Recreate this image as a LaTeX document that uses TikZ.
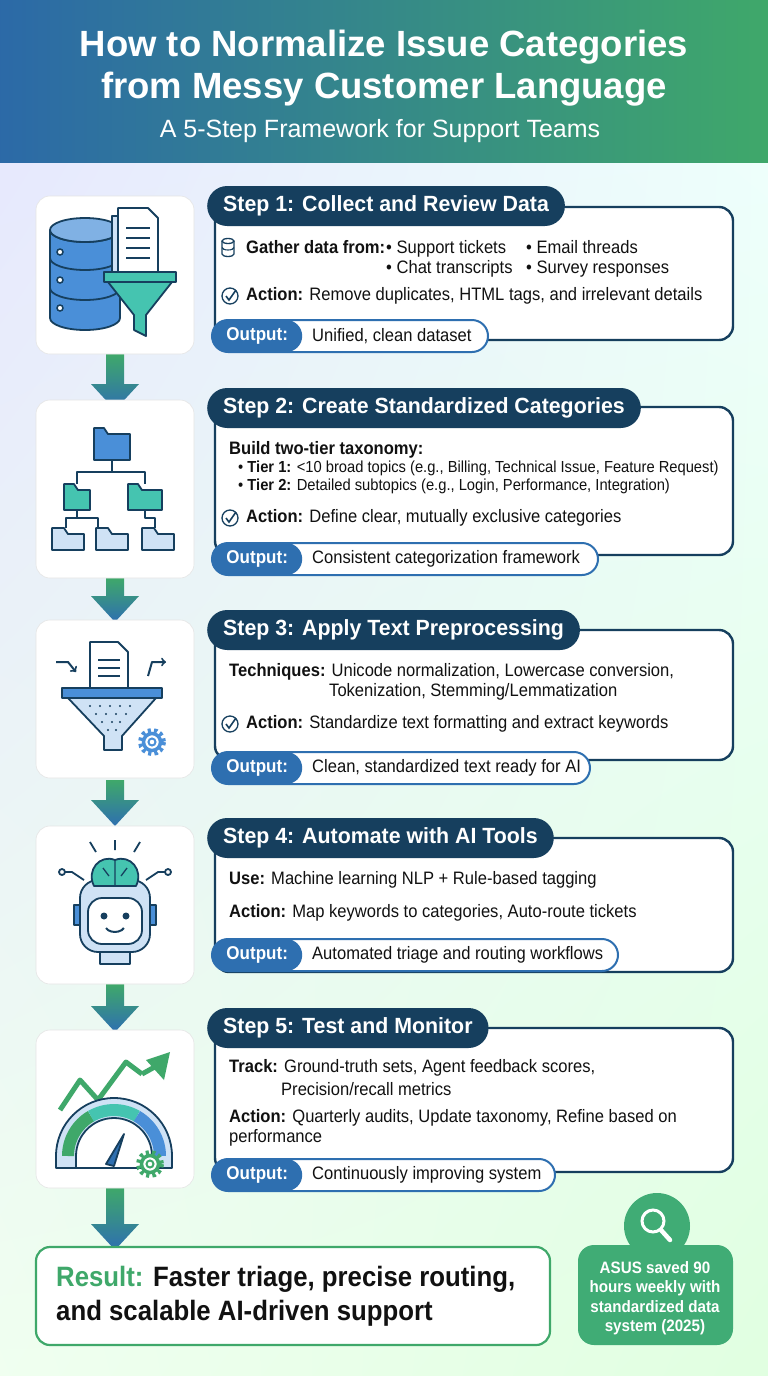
\documentclass[tikz,border=0pt]{standalone}
\usepackage{fontspec}
\setmainfont{Liberation Sans}[FakeStretch=0.92]
\newfontfamily\titlefont{Liberation Sans}
\newfontfamily\hfont{Liberation Sans}[FakeStretch=0.97]
\usetikzlibrary{shapes.geometric,shadings}
\definecolor{navy}{HTML}{163F5E}
\definecolor{blu}{HTML}{2E6FB0}
\definecolor{lblu}{HTML}{4A8FD8}
\definecolor{pblu}{HTML}{CFE2F5}
\definecolor{grn}{HTML}{3FA86A}
\definecolor{teal}{HTML}{45C4B0}
\definecolor{txt}{HTML}{111111}
\tikzset{
 iconbox/.style={fill=white,rounded corners=14,draw=white!90!black,line width=0.6},
 content/.style={draw=navy,line width=2.4,fill=white,rounded corners=14},
 header/.style={fill=navy,text=white,font=\hfont\bfseries\fontsize{22}{25}\selectfont,rounded corners=20,minimum height=40,inner xsep=16,anchor=west},
 body/.style={anchor=west,text=txt,font=\fontsize{18}{21}\selectfont,inner sep=0},
 bodyb/.style={anchor=base west,text=txt,font=\fontsize{18}{21}\selectfont,inner sep=0},
 small/.style={anchor=west,text=txt,font=\fontsize{16}{19}\selectfont,inner sep=0},
 outlab/.style={fill=blu,text=white,font=\bfseries\fontsize{18.5}{21}\selectfont,rounded corners=16,minimum height=32,minimum width=90,anchor=west},
 outtxt/.style={anchor=west,text=txt,font=\fontsize{18}{21}\selectfont,inner sep=0},
 ic/.style={draw=navy,line width=1.8,line join=round},
}
\newcommand{\chk}[2]{\draw[navy,line width=1.3] (#1,#2) circle (8);\draw[navy,line width=1.6] (#1-4,#2) -- (#1-1,#2+4) -- (#1+6,#2-6);}
\newcommand{\outpill}[4]{% y, right x, text, name
 \draw[draw=blu,line width=2,fill=white,rounded corners=16] (212,#1-16) rectangle (#2,#1+16);
 \node[outlab] (#4l) at (212,#1) {Output:};
 \node[outtxt] (#4) at (312,#1) {#3};}
\newcommand{\darrow}[2]{% y top, y bottom
 \shade[top color=grn,bottom color=blu] (106,#1) -- (124,#1) -- (124,#2-26) -- (139,#2-26) -- (115,#2) -- (91,#2-26) -- (106,#2-26) -- cycle;}
\newcommand{\gear}[3]{\draw[#3,line width=5,dash pattern=on 3.2pt off 3pt] (#1,#2) circle (11.5);\draw[#3,line width=3.5,fill=white] (#1,#2) circle (8.5);\draw[#3,line width=2,fill=white] (#1,#2) circle (3.5);}
\begin{document}
\begin{tikzpicture}[x=1pt,y=-1pt]
\useasboundingbox (0,0) rectangle (768,1376);
\shade[upper left=blue!10!white,upper right=cyan!6!white,lower left=green!6!white,lower right=green!12!white] (0,0) rectangle (768,1376);
\shade[left color=blu!95!black,right color=grn] (0,0) rectangle (768,162);
\node[text=white,font=\titlefont\bfseries\fontsize{36.5}{42}\selectfont,align=center] (title) at (384,68) {How to Normalize Issue Categories\\from Messy Customer Language};
\node[text=white,font=\titlefont\fontsize{25}{28}\selectfont] (sub) at (380,131) {A 5-Step Framework for Support Teams};
% arrows
\darrow{354}{410}
\darrow{578}{622}
\darrow{780}{826}
\darrow{984}{1032}
\darrow{1188}{1250}
% ===== step 1
\draw[iconbox] (36,196) rectangle (194,354);
\draw[content] (215,207) rectangle (733,340);
\node[header] (h1) at (207,206) {Step 1: Collect and Review Data};
\draw[navy,line width=1.3] (228,241) ellipse (6 and 2.5);\draw[navy,line width=1.3] (222,241)--(222,254) arc(180:0:6 and 2.5)--(234,241);\draw[navy,line width=1.1] (222,247.5) arc(180:0:6 and 2.5);
\node[bodyb] (g1) at (246,253) {\textbf{Gather data from:}};
\node[bodyb] (g2) at (386,253) {• Support tickets};
\node[bodyb] (g3) at (526,253) {• Email threads};
\node[bodyb] (g4) at (386,273) {• Chat transcripts};
\node[bodyb] (g5) at (526,273) {• Survey responses};
\chk{230}{296}
\node[body] (a1) at (246,296) {\textbf{Action:} Remove duplicates, HTML tags, and irrelevant details};
\outpill{336}{488}{Unified, clean dataset}{o1}
% icon1 database + doc + funnel
\fill[lblu,draw=navy,line width=1.8] (50,230)--(50,318) arc(180:0:35 and 12)--(120,230) arc(0:180:35 and 12);
\draw[navy,line width=1.8,fill=lblu!70!white] (85,230) ellipse (35 and 12);
\foreach \yy in {258,288} \draw[navy,line width=1.8] (50,\yy) arc(180:0:35 and 12);
\foreach \yy in {252,280,308} \draw[navy,line width=1.5,fill=white] (60,\yy) circle (3);
\draw[ic,fill=pblu] (112,216) rectangle (150,282);
\draw[ic,fill=white] (118,208)--(148,208)--(158,218)--(158,276)--(118,276)--cycle;
\foreach \yy in {228,238,248,258} \draw[navy,line width=2] (126,\yy)--(150,\yy);
\draw[ic,fill=teal] (104,272) rectangle (176,282);
\draw[ic,fill=teal] (108,282)--(172,282)--(146,315)--(146,336)--(134,330)--(134,315)--cycle;
% ===== step 2
\draw[iconbox] (36,400) rectangle (194,578);
\draw[content] (215,407) rectangle (733,555);
\node[header] (h2) at (207,408) {Step 2: Create Standardized Categories};
\node[body] (b2) at (229,450) {\textbf{Build two-tier taxonomy:}};
\node[small] (t1) at (238,468) {• \textbf{Tier 1:} <10 broad topics (e.g., Billing, Technical Issue, Feature Request)};
\node[small] (t2) at (238,486) {• \textbf{Tier 2:} Detailed subtopics (e.g., Login, Performance, Integration)};
\chk{230}{518}
\node[body] (a2) at (246,518) {\textbf{Action:} Define clear, mutually exclusive categories};
\outpill{559}{598}{Consistent categorization framework}{o2}
% icon2 folders
\draw[ic,fill=lblu] (94,428)--(94,460)--(130,460)--(130,434)--(108,434)--(104,428)--cycle;
\draw[ic] (112,460)--(112,472) (77,484)--(77,472)--(145,472)--(145,484);
\draw[ic,fill=teal] (64,484)--(64,510)--(90,510)--(90,490)--(78,490)--(74,484)--cycle;
\draw[ic,fill=teal] (128,484)--(128,510)--(162,510)--(162,490)--(142,490)--(138,484)--cycle;
\draw[ic] (77,510)--(77,518) (66,528)--(66,518)--(98,518)--(98,528) (145,510)--(145,518)--(155,518)--(155,528);
\foreach \xx in {52,96,142} \draw[ic,fill=pblu] (\xx,528)--(\xx,550)--(\xx+32,550)--(\xx+32,534)--(\xx+16,534)--(\xx+12,528)--cycle;
% ===== step 3
\draw[iconbox] (36,620) rectangle (194,778);
\draw[content] (215,630) rectangle (733,760);
\node[header] (h3) at (207,630) {Step 3: Apply Text Preprocessing};
\node[body] (te) at (229,672) {\textbf{Techniques:} Unicode normalization, Lowercase conversion,};
\node[body] (te2) at (329,692) {Tokenization, Stemming/Lemmatization};
\chk{230}{724}
\node[body] (a3) at (246,724) {\textbf{Action:} Standardize text formatting and extract keywords};
\outpill{768}{590}{Clean, standardized text ready for AI}{o3}
% icon3
\draw[ic,fill=white] (90,642)--(118,642)--(128,652)--(128,690)--(90,690)--cycle;
\foreach \yy in {660,668,676} \draw[navy,line width=1.8] (98,\yy)--(120,\yy);
\draw[ic,->,line width=2] (56,662)--(68,662)--(76,672);
\draw[ic,->,line width=2] (148,676)--(152,662)--(166,662);
\draw[ic,fill=lblu] (62,688) rectangle (162,698);
\draw[ic,fill=pblu] (68,698)--(156,698)--(122,736)--(122,750)--(104,750)--(104,736)--cycle;
\foreach \xx/\yy in {90/706,100/706,110/706,120/706,130/706,96/714,106/714,116/714,126/714,102/722,112/722,120/722,108/730,116/730} \fill[navy] (\xx,\yy) circle (1.2);
\gear{152}{742}{lblu}
% ===== step 4
\draw[iconbox] (36,826) rectangle (194,984);
\draw[content] (215,838) rectangle (733,972);
\node[header] (h4) at (207,838) {Step 4: Automate with AI Tools};
\node[body] (u4) at (229,880) {\textbf{Use:} Machine learning NLP + Rule-based tagging};
\node[body] (a4) at (229,913) {\textbf{Action:} Map keywords to categories, Auto-route tickets};
\outpill{955}{618}{Automated triage and routing workflows}{o4}
% icon4 robot
\draw[ic,fill=pblu,rounded corners=18] (80,880) rectangle (150,952);
\draw[ic,fill=white,rounded corners=14] (88,898) rectangle (142,944);
\draw[ic,fill=lblu] (74,905) rectangle (80,925); \draw[ic,fill=lblu] (150,905) rectangle (156,925);
\draw[ic,fill=pblu] (100,952) rectangle (130,964);
\fill[navy] (104,916) circle (3.5); \fill[navy] (126,916) circle (3.5);
\draw[navy,line width=2] (106,928) arc(160:20:9.5 and 6);
\draw[ic,fill=teal] (94,886) .. controls (86,870) and (100,854) .. (115,860) .. controls (130,854) and (144,870) .. (136,886) -- cycle;
\draw[navy,line width=1.3] (115,860)--(115,886) (103,868)--(109,876) (127,868)--(121,876);
\draw[ic] (84,880)--(72,872)--(64,872) (146,880)--(158,872)--(166,872);
\draw[ic,fill=white] (62,872) circle (3); \draw[ic,fill=white] (168,872) circle (3);
\draw[ic] (96,852)--(90,842) (134,852)--(140,842) (115,850)--(115,840);
% ===== step 5
\draw[iconbox] (36,1030) rectangle (194,1188);
\draw[content] (215,1028) rectangle (733,1172);
\node[header] (h5) at (207,1028) {Step 5: Test and Monitor};
\node[body] (tr) at (229,1068) {\textbf{Track:} Ground-truth sets, Agent feedback scores,};
\node[body] (tr2) at (281,1089) {Precision/recall metrics};
\node[body] (a5) at (229,1118) {\textbf{Action:} Quarterly audits, Update taxonomy, Refine based on};
\node[body] (a5b) at (229,1138) {performance};
\outpill{1175}{555}{Continuously improving system}{o5}
% icon5 gauge
\draw[grn,line width=5,line join=round] (60,1110)--(80,1080)--(98,1100)--(126,1062)--(142,1074);
\fill[grn] (170,1052)--(146,1060)--(164,1080)--cycle;
\draw[grn,line width=5] (142,1074)--(160,1064);
\draw[ic,fill=pblu] (56,1168) -- (56,1156) arc(180:360:58) -- (172,1168) -- cycle;
\draw[line width=12,grn] (68,1156) arc(180:240:46);
\draw[line width=12,teal] (91,1116.2) arc(240:300:46);
\draw[line width=12,lblu] (137,1116.2) arc(300:360:46);
\draw[ic,fill=white] (76,1168)--(76,1156) arc(180:360:38)--(152,1168)--cycle;
\draw[ic,fill=blu] (106,1164)--(124,1134)--(114,1166)--cycle;
\gear{150}{1164}{grn}
% ===== result
\draw[draw=grn,line width=2.2,fill=white,rounded corners=14] (36,1247) rectangle (550,1345);
\node[anchor=west,align=left,text=txt,font=\bfseries\fontsize{28}{34}\selectfont,inner sep=0] (res) at (56,1296) {\textcolor{grn}{Result:} Faster triage, precise routing,\\and scalable AI-driven support};
\fill[grn!85!teal,rounded corners=16] (578,1245) rectangle (733,1345);
\fill[grn!85!teal] (657,1226) circle (33);
\draw[white,line width=3] (653,1221) circle (11);
\draw[white,line width=4.5,line cap=round] (661,1230)--(670,1240);
\node[text=white,align=center,font=\bfseries\fontsize{16.5}{19.5}\selectfont] (asus) at (655,1298) {ASUS saved 90\\hours weekly with\\standardized data\\system (2025)};
\end{tikzpicture}
\end{document}
